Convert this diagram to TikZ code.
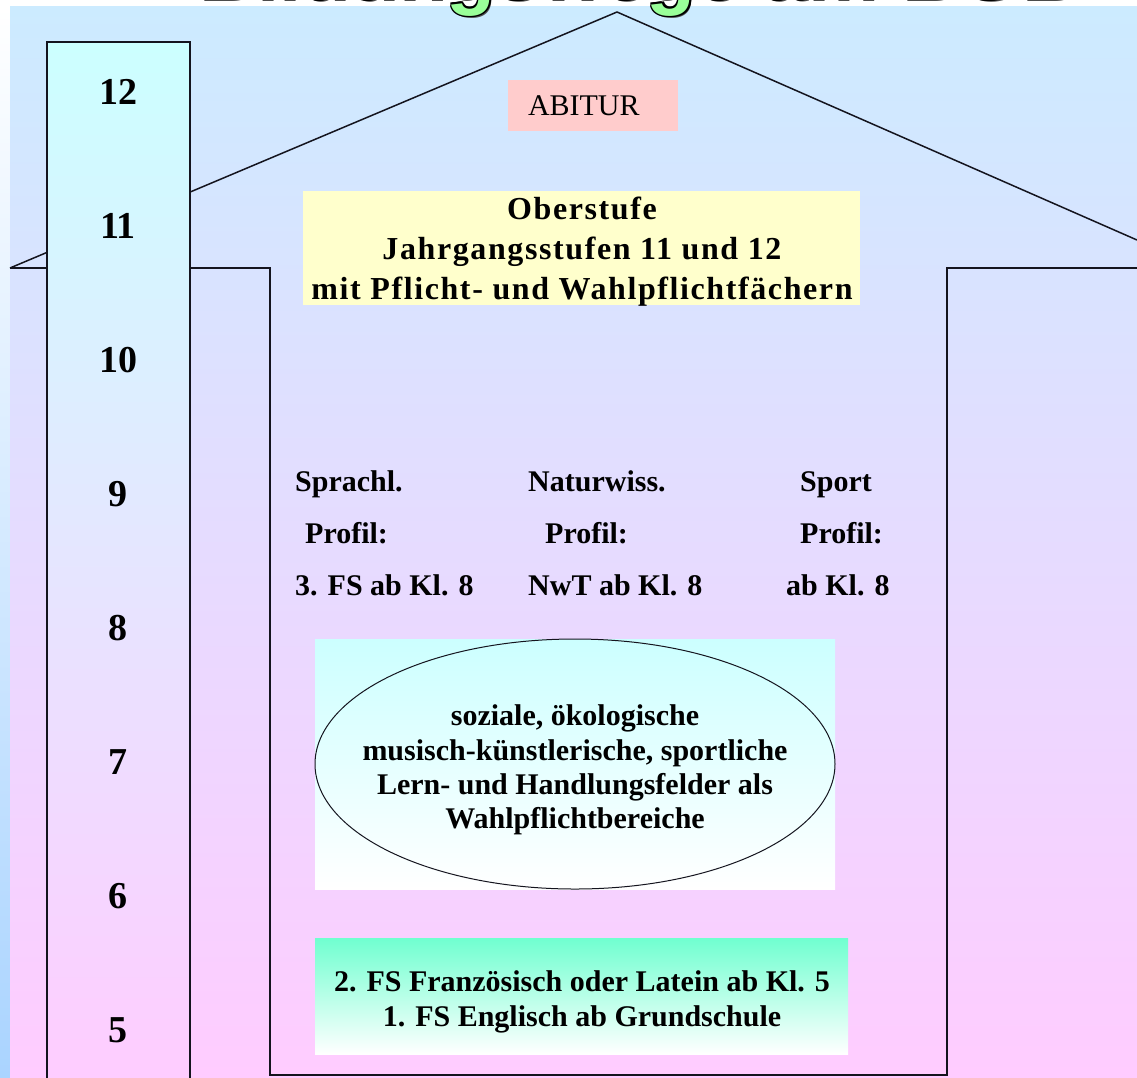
\documentclass[tikz,border=0pt]{standalone}
\usepackage{fontspec}
\setmainfont{Liberation Serif}
\newfontfamily\titlefont{Liberation Sans}
\newfontfamily\spacedfont[LetterSpace=5]{Liberation Serif}
\usetikzlibrary{shapes.geometric}
\definecolor{bgtop}{RGB}{204,235,255}
\definecolor{bgbot}{RGB}{255,204,255}
\definecolor{coltop}{RGB}{204,255,255}
\definecolor{stripbot}{RGB}{170,212,255}
\definecolor{abibox}{RGB}{255,204,204}
\definecolor{oberbox}{RGB}{255,255,204}
\definecolor{fsbox}{RGB}{112,255,208}
\definecolor{titlegreen}{RGB}{153,255,153}
\definecolor{linecol}{RGB}{20,20,30}
\tikzset{
  houseline/.style={draw=linecol, line width=1.5pt},
  numtext/.style={font=\fontsize{38}{40}\selectfont\bfseries, inner sep=0pt},
  proftext/.style={font=\fontsize{30}{36}\selectfont\bfseries, inner sep=0pt, anchor=base west},
  titletext/.style={font=\titlefont\bfseries\fontsize{80}{80}\selectfont, anchor=base, inner sep=0pt}
}
\begin{document}
\begin{tikzpicture}[x=1pt,y=-1pt]
\useasboundingbox (0,0) rectangle (1137,1077);
% background
\fill[white] (0,0) rectangle (1137,1077);
\shade[top color=white, bottom color=stripbot] (0,6) rectangle (10,1077);
\shade[top color=bgtop, bottom color=bgbot] (10,6) rectangle (1137,1077);
% house outline
\coordinate (eaveL) at (10,268);
\coordinate (peak) at (617,12);
\coordinate (eaveR) at (1137,240);
\coordinate (wallTL) at (270,268);
\coordinate (wallBL) at (270,1075);
\coordinate (wallBR) at (947,1075);
\coordinate (wallTR) at (947,268);
\coordinate (edgeR) at (1137,268);
\draw[houseline] (eaveL) -- (peak) -- (eaveR);
\draw[houseline] (eaveL) -- (wallTL) -- (wallBL) -- (wallBR) -- (wallTR) -- (edgeR);
% grade column
\shade[top color=coltop, bottom color=bgbot] (47,42) rectangle (190,1090);
\draw[houseline] (47,1090) -- (47,42) -- (190,42) -- (190,1090);
\foreach \n in {5,...,12}
  \node[numtext] (num\n) at (118,{92+(12-\n)*134}) {\n};
% ABITUR
\node[fill=abibox, minimum width=170pt, minimum height=51pt, text width=130pt,
      inner xsep=20pt, inner ysep=0pt, align=left, font=\fontsize{30}{34}\selectfont]
      (abitur) at (593,105.5) {ABITUR};
% Oberstufe
\node[fill=oberbox, minimum width=557pt, minimum height=114pt, inner sep=0pt]
      (oberbox) at (581.5,248) {};
\node[align=center, font=\spacedfont\fontsize{32}{40}\selectfont\bfseries, inner sep=0pt]
      (ober) at (582,252) {Oberstufe\\Jahrgangsstufen 11 und 12\\mit Pflicht- und Wahlpflichtfächern};
% profiles
\node[proftext] (p11) at (295,491) {Sprachl.};
\node[proftext] (p12) at (305,543) {Profil:};
\node[proftext] (p13) at (295,595) {3. FS ab Kl. 8};
\node[proftext] (p21) at (528,491) {Naturwiss.};
\node[proftext] (p22) at (545,543) {Profil:};
\node[proftext] (p23) at (528,595) {NwT ab Kl. 8};
\node[proftext] (p31) at (800,491) {Sport};
\node[proftext] (p32) at (800,543) {Profil:};
\node[proftext] (p33) at (786,595) {ab Kl. 8};
% ellipse box
\node[top color=coltop, bottom color=white, minimum width=520pt, minimum height=250pt, inner sep=0pt]
      (ellbox) at (575,764) {};
\node[ellipse, draw=linecol, line width=1pt, minimum width=520pt, minimum height=250pt, inner sep=0pt]
      (ell) at (575,764) {};
\node[align=center, font=\fontsize{30}{34.3}\selectfont\bfseries, inner sep=0pt]
      (elltext) at (575,770) {soziale, ökologische\\musisch-künstlerische, sportliche\\Lern- und Handlungsfelder als\\Wahlpflichtbereiche};
% foreign languages box
\node[top color=fsbox, bottom color=white, minimum width=533pt, minimum height=116pt, inner sep=0pt]
      (fsbox) at (581.5,996) {};
\node[align=center, font=\fontsize{30}{35}\selectfont\bfseries, inner sep=0pt]
      (fs) at (582,1002) {2. FS Französisch oder Latein ab Kl. 5\\1. FS Englisch ab Grundschule};
% title (cut off at top)
\node[titletext, text=black!70] (titleshadow) at (640,1) {Bildungswege am BGB};
\foreach \dx/\dy [count=\i] in {-1.5/0,1.5/0,0/-1.5,0/1.5,-1.1/-1.1,1.1/1.1,-1.1/1.1,1.1/-1.1}
  \node[titletext, text=black] (titleline\i) at ({638+\dx},{-1+\dy}) {Bildungswege am BGB};
\node[titletext, text=titlegreen] (title) at (638,-1) {Bildungswege am BGB};
\end{tikzpicture}
\end{document}
